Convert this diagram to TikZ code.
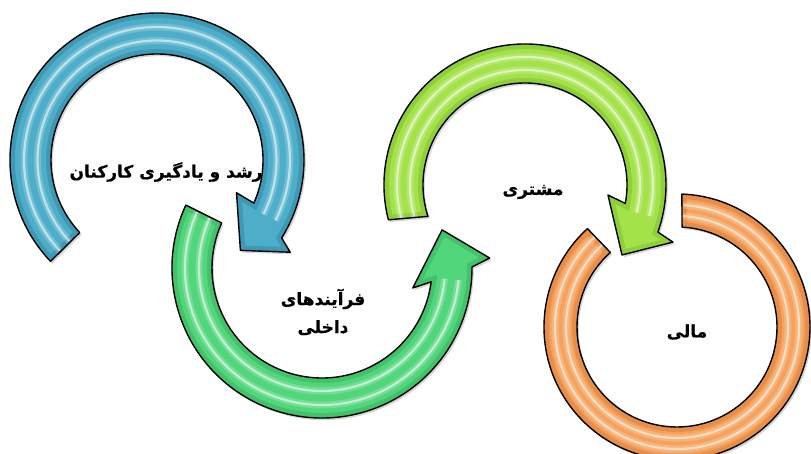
\documentclass[tikz,border=0pt]{standalone}
\usepackage{fontspec}
\newfontfamily\arabicfont[Script=Arabic,BoldFeatures={FakeBold=0.6}]{DejaVu Sans}
\TeXXeTstate=1
\definecolor{bluebase}{RGB}{78,174,202}
\definecolor{bluedark}{RGB}{44,128,156}
\definecolor{greenbase}{RGB}{82,214,124}
\definecolor{greendark}{RGB}{46,170,88}
\definecolor{limebase}{RGB}{164,226,74}
\definecolor{limedark}{RGB}{120,184,40}
\definecolor{orangebase}{RGB}{246,162,92}
\definecolor{orangedark}{RGB}{214,118,52}
% #1 base colour, #2 dark colour, #3 path, #4 start angle, #5 end angle, #6 stripe radius 1, #7 stripe radius 2
\newcommand\ringarrow[7]{%
  \fill[black,opacity=.16,shift={(1.8,-2.2)}] #3;
  \begin{scope}
    \clip #3;
    \fill[#1] (-220,-220) rectangle (220,220);
    \draw[#2,line width=10,opacity=.45] #3;
    \draw[white,line width=7,opacity=.2] (#4:#6) arc[start angle=#4,end angle=#5,radius=#6];
    \draw[white,line width=2.2,opacity=.55] (#4:#6) arc[start angle=#4,end angle=#5,radius=#6];
    \draw[white,line width=7,opacity=.2] (#4:#7) arc[start angle=#4,end angle=#5,radius=#7];
    \draw[white,line width=2.2,opacity=.55] (#4:#7) arc[start angle=#4,end angle=#5,radius=#7];
  \end{scope}
  \draw[black,line width=1.4,line join=round] #3;
}
\tikzset{lbl/.style={font=\arabicfont\bfseries\fontsize{17}{28}\selectfont,inner sep=0pt,text=black}}
\begin{document}
\begin{tikzpicture}[x=1pt,y=1pt]
\useasboundingbox (0,0) rectangle (811,453);
\clip (0,0) rectangle (811,453);
% orange ring (mali)
\begin{scope}[shift={(677,126)}]
\ringarrow{orangebase}{orangedark}{(87.9:133) arc[start angle=87.9,end angle=-227.7,radius=133] -- (-228.2:100) arc[start angle=-228.2,end angle=87.1,radius=100] -- cycle}{87}{-228}{111}{122}
\end{scope}
% light green arrow (moshtari)
\begin{scope}[shift={(525,268)}]
\ringarrow{limebase}{limedark}{(194.3:141) arc[start angle=194.3,end angle=-19.5,radius=141] -- (-21.1:158.6) -- (-35.8:119.6) -- (-6.9:83.6) -- (-10.4:102) arc[start angle=-10.4,end angle=197.9,radius=102] -- cycle}{196}{-14}{115}{128}
\end{scope}
% green arrow (farayandha)
\begin{scope}[shift={(322,185)}]
\ringarrow{greenbase}{greendark}{(155.2:150) arc[start angle=155.2,end angle=360.4,radius=150] -- (363.4:168) -- (377.6:126) -- (347.6:93) -- (352.8:110) arc[start angle=352.8,end angle=155.8,radius=110] -- cycle}{156}{355}{123}{137}
\end{scope}
% blue arrow (roshd)
\begin{scope}[shift={(157,293)}]
\ringarrow{bluebase}{bluedark}{(223.6:147) arc[start angle=223.6,end angle=-32,radius=147] -- (-34.7:162) -- (-47.3:123) -- (-22.4:86) -- (-24:106) arc[start angle=-24,end angle=223.2,radius=106] -- cycle}{223}{-27}{119.5}{133}
\end{scope}
% labels
\node[lbl] (t1) at (166,281) {\beginR رشد و یادگیری کارکنان\endR};
\node[lbl,align=center] (t2) at (323,141) {\beginR فرآیندهای\endR\\\beginR داخلی\endR};
\node[lbl] (t3) at (533,261) {\beginR مشتری\endR};
\node[lbl] (t4) at (687,121) {\beginR مالی\endR};
\end{tikzpicture}
\end{document}
